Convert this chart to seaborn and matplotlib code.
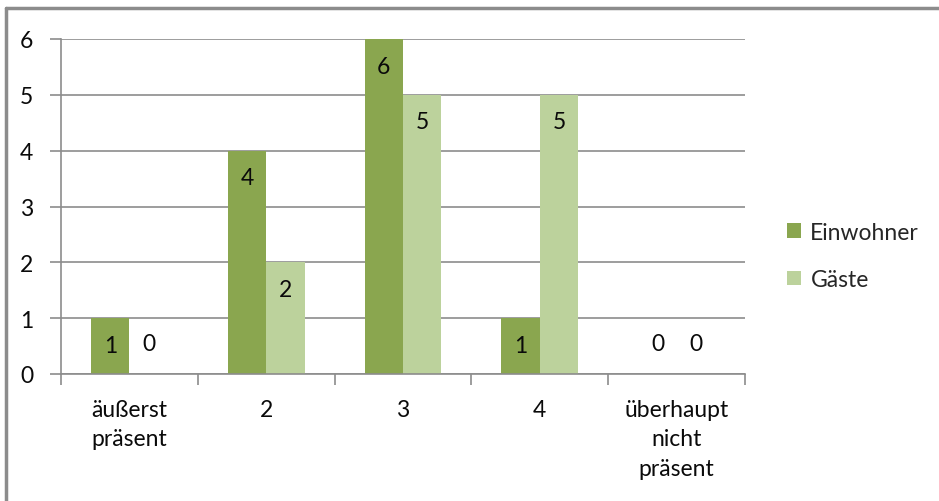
import matplotlib
matplotlib.use("Agg")
import matplotlib.pyplot as plt
from matplotlib.lines import Line2D
from matplotlib.patches import Patch
import seaborn as sns
import pandas as pd

categories = ["äußerst\npräsent", "2", "3", "4", "überhaupt\nnicht\npräsent"]
einwohner = [1, 4, 6, 1, 0]
gaeste = [0, 2, 5, 5, 0]
series_names = ["Einwohner", "Gäste"]
colors = ["#8AA64F", "#BCD29C"]

df = pd.DataFrame({
    "Kategorie": categories * 2,
    "Wert": einwohner + gaeste,
    "Gruppe": [series_names[0]] * len(categories) + [series_names[1]] * len(categories),
})

sns.set_theme(style="white")
plt.rcParams["font.family"] = ["Lato", "DejaVu Sans"]
FS = 16.5
TXT = "#0A0A0A"

fig = plt.figure(figsize=(9.39, 5.02), dpi=100)
ax = fig.add_axes([61 / 939, 1 - 375 / 502, (745 - 61) / 939, (375 - 40) / 502])

sns.barplot(data=df, x="Kategorie", y="Wert", hue="Gruppe", order=categories,
            hue_order=series_names, palette=colors, width=0.56, gap=0,
            saturation=1, dodge=True, legend=False, ax=ax, edgecolor="none")

ax.set_xlim(-0.5, len(categories) - 0.5)
ax.set_ylim(0, 6)
ax.set_yticks(range(0, 7))
ax.set_xlabel("")
ax.set_ylabel("")

grid_col = "#8C8C8C"
ax.yaxis.grid(True, color=grid_col, linewidth=1.2)
ax.set_axisbelow(True)
for side in ["top", "right"]:
    ax.spines[side].set_visible(False)
for side in ["left", "bottom"]:
    ax.spines[side].set_color(grid_col)
    ax.spines[side].set_linewidth(1.2)

ax.tick_params(axis="y", which="major", length=8, width=1.2, color=grid_col,
               labelsize=FS, pad=12, left=True)
ax.tick_params(axis="x", which="major", length=0, labelsize=FS, pad=18)
ax.set_xticks(range(len(categories)))
ax.set_xticklabels(categories, linespacing=1.5, va="top")
ax.set_xticks([i - 0.5 for i in range(len(categories) + 1)], minor=True)
ax.tick_params(axis="x", which="minor", length=8, width=1.2, color=grid_col, bottom=True)
for lab in ax.get_yticklabels() + ax.get_xticklabels():
    lab.set_color(TXT)

# value labels inside the bar ends; zero bars get their label above the baseline
for container, vals in zip(ax.containers, [einwohner, gaeste]):
    for bar, v in zip(container, vals):
        cx = bar.get_x() + bar.get_width() / 2
        dy = -27 if v > 0 else 30
        ax.annotate(f"{v}", (cx, v), xytext=(0, dy), textcoords="offset pixels",
                    ha="center", va="center", fontsize=FS, color=TXT)

handles = [Patch(facecolor=c, edgecolor="none") for c in colors]
fig.legend(handles, series_names, loc="center left", bbox_to_anchor=(776 / 939, 1 - 257 / 502),
           frameon=False, fontsize=FS, handlelength=0.6, handleheight=0.6,
           handletextpad=0.4, labelspacing=1.15, borderpad=0)

# chart area frame
border = "#8C8C8C"
fig.add_artist(Line2D([5.5 / 939, 1], [1 - 8.5 / 502] * 2, color=border, lw=2.5,
                      transform=fig.transFigure))
fig.add_artist(Line2D([5.5 / 939] * 2, [0, 1 - 8.5 / 502], color=border, lw=2.5,
                      transform=fig.transFigure))

fig.savefig("out.png", dpi=100, facecolor="white")
